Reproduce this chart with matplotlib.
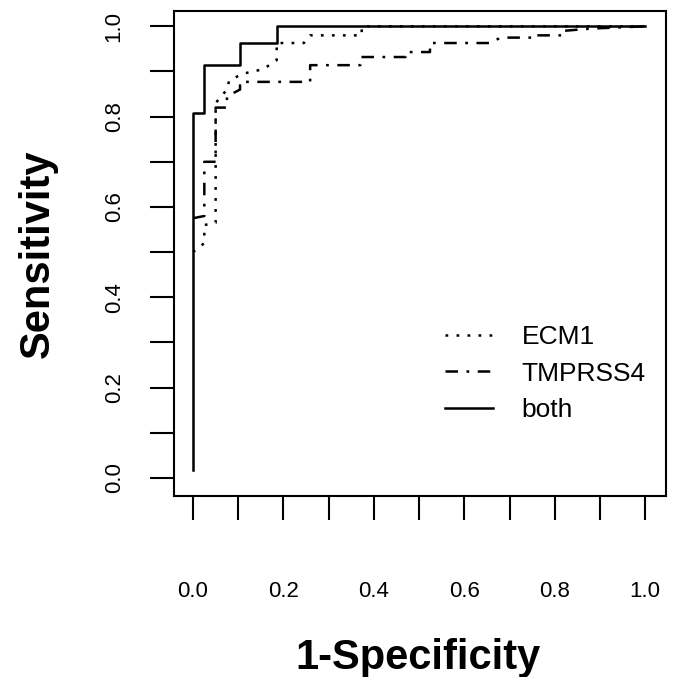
import numpy as np
import matplotlib
matplotlib.use("Agg")
import matplotlib.pyplot as plt

plt.rcParams['font.family'] = ['Liberation Sans', 'DejaVu Sans']

# ROC curves (1-specificity, sensitivity)
ecm1_fpr = [0.0, 0.025, 0.025, 0.05, 0.05, 0.075, 0.08, 0.11, 0.155, 0.185, 0.185,
            0.245, 0.259, 0.373, 0.373, 1.0]
ecm1_tpr = [0.5, 0.52, 0.56, 0.565, 0.83, 0.86, 0.88, 0.895, 0.905, 0.925, 0.963,
            0.963, 0.98, 0.98, 1.0, 1.0]

tmprss4_fpr = [0.0, 0.025, 0.025, 0.05, 0.05, 0.075, 0.075, 0.104, 0.104, 0.259, 0.259,
               0.37, 0.37, 0.47, 0.47, 0.524, 0.524, 0.657, 0.68, 0.75, 0.75, 0.82,
               0.82, 0.88, 1.0]
tmprss4_tpr = [0.575, 0.58, 0.70, 0.70, 0.82, 0.82, 0.845, 0.86, 0.877, 0.877, 0.914,
               0.914, 0.932, 0.932, 0.943, 0.943, 0.963, 0.963, 0.975, 0.975, 0.98, 0.98,
               0.99, 0.995, 1.0]

both_fpr = [0.0, 0.0, 0.025, 0.025, 0.104, 0.104, 0.185, 0.185, 1.0]
both_tpr = [0.018, 0.808, 0.808, 0.915, 0.915, 0.963, 0.963, 1.0, 1.0]

tick_vals = np.round(np.arange(0, 1.01, 0.1), 1)
tick_labels = [f"{v:.1f}" if i % 2 == 0 else "" for i, v in enumerate(tick_vals)]

fig = plt.figure(figsize=(6.74, 6.77), dpi=100)
ax = fig.add_axes([0.2582, 0.2674, 0.7300, 0.7164])

lw = 1.8
ax.plot(ecm1_fpr, ecm1_tpr, color='black', lw=lw, linestyle=(0, (1.1, 3.3)),
        label='ECM1')
ax.plot(tmprss4_fpr, tmprss4_tpr, color='black', lw=lw,
        linestyle=(0, (5.0, 3.4, 1.1, 3.4)), label='TMPRSS4')
ax.plot(both_fpr, both_tpr, color='black', lw=lw, label='both')

ax.set_xlim(-0.042, 1.046)
ax.set_ylim(-0.04, 1.034)

ax.set_xticks(tick_vals)
ax.set_xticklabels(tick_labels)
ax.set_yticks(tick_vals)
ax.set_yticklabels(tick_labels)
ax.tick_params(axis='both', direction='out', length=17.5, width=1.5,
               labelsize=16, colors='black')
ax.tick_params(axis='x', pad=44)
ax.tick_params(axis='y', pad=18)
for lab in ax.get_yticklabels():
    lab.set_rotation(90)
    lab.set_va('center')
    lab.set_ha('right')

for sp in ax.spines.values():
    sp.set_linewidth(1.5)

ax.set_xlabel('1-Specificity', fontsize=30, fontweight='bold')
ax.set_ylabel('Sensitivity', fontsize=30, fontweight='bold')
ax.xaxis.set_label_coords(0.496, -0.292)
ax.yaxis.set_label_coords(-0.236, 0.5)

ax.legend(loc='upper left', bbox_to_anchor=(445 / 674, 1 - 325 / 677),
          bbox_transform=fig.transFigure, frameon=False, fontsize=19,
          handlelength=1.8, handletextpad=1.1, labelspacing=0.48,
          borderpad=0, borderaxespad=0)

fig.savefig('out.png', dpi=100)
